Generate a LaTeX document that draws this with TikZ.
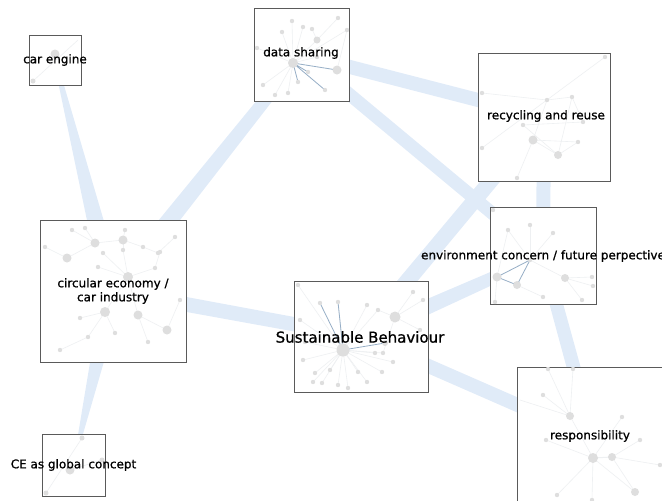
\documentclass[tikz,border=0pt]{standalone}
\usepackage{fontspec}
\setmainfont{DejaVu Sans}
\newfontfamily\lblfont{DejaVu Sans}[FakeBold=0.9]
\usetikzlibrary{backgrounds,calc}
\definecolor{bandc}{RGB}{224,235,248}
\definecolor{dotc}{RGB}{222,222,222}
\definecolor{linkc}{RGB}{238,240,242}
\definecolor{hilink}{RGB}{150,174,198}
\definecolor{framec}{RGB}{90,90,90}
\tikzset{
  topic/.style={draw=framec, line width=0.8pt, fill=white, inner sep=0pt, outer sep=0pt},
  lbl/.style={inner sep=0pt, font=\lblfont\fontsize{12}{14}\selectfont, text=black, align=center},
  link/.style={draw=linkc, line width=0.6pt},
  hlink/.style={draw=hilink, line width=0.8pt},
}
% tapered band between two topics: from, to, half width at from, half width at to
\newcommand{\band}[4]{\fill[bandc] ($(#1.center)!#3!90:(#2.center)$) -- ($(#1.center)!#3!-90:(#2.center)$) -- ($(#2.center)!#4!90:(#1.center)$) -- ($(#2.center)!#4!-90:(#1.center)$) -- cycle;}
% x/y list of small dots
\newcommand{\smalldots}[1]{\foreach \x/\y in {#1} \fill[dotc] (\x,\y) circle (2.2);}
% x/y/r list of larger dots
\newcommand{\bigdots}[1]{\foreach \x/\y/\r in {#1} \fill[dotc] (\x,\y) circle (\r);}
% x1/y1/x2/y2 list of faint links
\newcommand{\links}[1]{\foreach \x/\y/\u/\v in {#1} \draw[link] (\x,\y) -- (\u,\v);}
% spokes from one hub: hub x, hub y, list of x/y
\newcommand{\spokes}[3]{\foreach \u/\v in {#3} \draw[link] (#1,#2) -- (\u,\v);}
\begin{document}
\begin{tikzpicture}[x=1pt,y=-1pt]
\useasboundingbox (0,0) rectangle (662,501);

% topic frames
\node[topic, minimum width=52, minimum height=50] (eng) at (55,60) {};
\node[topic, minimum width=95, minimum height=93] (ds) at (301.5,54.5) {};
\node[topic, minimum width=132, minimum height=128] (rr) at (544,117) {};
\node[topic, minimum width=106, minimum height=97] (env) at (543,255.5) {};
\node[topic, minimum width=146, minimum height=142] (circ) at (113,291) {};
\node[topic, minimum width=134, minimum height=111] (sb) at (361,336.5) {};
\node[topic, minimum width=152, minimum height=142] (resp) at (593,438) {};
\node[topic, minimum width=63, minimum height=62] (glob) at (73.5,465) {};

% links between topics
\begin{pgfonlayer}{background}
\band{eng}{circ}{1.5pt}{11pt}
\band{circ}{ds}{9.5pt}{5.5pt}
\band{circ}{sb}{7.5pt}{7pt}
\band{circ}{glob}{11pt}{0.5pt}
\band{ds}{rr}{7pt}{7pt}
\band{ds}{env}{6.5pt}{6.5pt}
\band{sb}{rr}{8pt}{7.5pt}
\band{sb}{env}{8.5pt}{5.5pt}
\band{rr}{env}{7pt}{7pt}
\band{env}{resp}{6.5pt}{7pt}
\band{sb}{resp}{7pt}{7pt}
\end{pgfonlayer}

% small networks inside the frames
% car engine
\links{33/81/78/40}
\bigdots{55/54/4.5, 33/81/2.5}

% data sharing
\spokes{293}{63}{292/21, 303/27, 282/32, 257/48, 317/40, 317/57, 263/85, 288/93, 275/95, 347/30}
\links{317/40/338/18, 317/40/312/29, 337/70/347/30}
\draw[hlink] (293,63) -- (325,90) (293,63) -- (298,82) (293,63) -- (337,70) (293,63) -- (308,72);
\smalldots{292/21, 303/27, 312/29, 282/32, 338/18, 347/30, 257/48, 308/72, 298/82, 325/90, 263/85, 288/93, 275/95, 317/57}
\bigdots{293/63/5, 337/70/4.5, 317/40/3.5}

% recycling and reuse
\links{547/100/572/97, 547/100/533/140, 572/97/558/155, 572/97/583/122, 533/140/558/155, 533/140/578/142, 523/125/583/122, 558/155/578/142, 482/148/605/57, 482/93/547/100, 533/140/517/178, 523/125/558/155}
\smalldots{547/100, 572/97, 523/125, 578/142, 583/122, 605/57, 482/93, 482/148, 517/178}
\bigdots{533/140/4.5, 558/155/4}

% environment concern / future perpective
\links{508/230/530/260, 530/225/530/260, 553/233/530/260, 530/260/565/278, 517/285/543/297, 565/278/582/300, 565/278/592/277, 497/277/495/302, 565/278/593/286, 508/230/497/277}
\draw[hlink] (497,277) -- (530,260) -- (517,285) -- cycle;
\smalldots{508/230, 530/225, 553/233, 530/260, 543/297, 582/300, 592/277, 593/286, 495/302, 493/210}
\bigdots{497/277/4.5, 517/285/4, 565/278/4}

% circular economy / car industry
\links{123/240/125/230, 123/240/95/243, 123/240/123/250, 123/240/143/247, 95/243/67/258, 95/243/85/228, 95/243/72/230, 103/253/128/277, 123/250/128/277, 98/267/128/277, 143/247/158/253, 158/253/175/237, 128/277/155/268, 128/277/105/312, 128/277/138/315, 105/312/80/318, 105/312/88/337, 105/312/115/333, 138/315/167/330, 138/315/148/342, 67/258/45/247, 155/268/160/252, 167/330/180/300, 88/337/60/350}
\smalldots{125/230, 123/250, 143/247, 158/253, 103/253, 98/267, 80/318, 88/337, 115/333, 148/342, 160/252, 175/237, 72/230, 85/228, 45/247, 155/268, 180/300, 60/350}
\bigdots{123/240/4.5, 95/243/4.5, 67/258/4.5, 128/277/5, 105/312/5, 138/315/4.5, 167/330/4.5}

% Sustainable Behaviour
\spokes{343}{350}{338/302, 367/305, 378/310, 298/285, 375/353, 383/353, 315/373, 322/383, 338/385, 348/388, 367/382, 305/342, 303/360, 313/382, 393/362, 382/372, 300/320, 330/370, 358/372}
\spokes{395}{317}{413/292, 423/300, 378/310, 420/330, 383/353}
\draw[hlink] (343,350) -- (320,303) (343,350) -- (385,343) (343,350) -- (338,302);
\smalldots{338/302, 320/303, 367/305, 378/310, 413/292, 423/300, 298/285, 375/353, 383/353, 393/362, 382/372, 315/373, 322/383, 338/385, 348/388, 367/382, 305/342, 303/360, 313/382, 420/330, 300/320, 330/370, 358/372}
\bigdots{343/350/6.5, 395/317/5.5, 385/343/3}

% responsibility
\links{548/369/570/416, 573/369/570/416, 543/395/570/416, 570/416/593/458, 593/458/546/440, 593/458/622/417, 593/458/635/492, 612/457/640/440, 612/457/660/465, 593/458/557/495, 593/458/592/500, 612/457/635/492, 520/400/570/416}
\draw[link, line width=1pt] (593,458) -- (612,457);
\smalldots{548/369, 573/369, 543/395, 622/417, 546/440, 640/440, 660/465, 557/495, 592/500}
\bigdots{570/416/4, 593/458/5, 612/457/4, 635/492/4}

% CE as global concept
\links{46/493/82/438, 70/470/102/460}
\bigdots{70/470/4.5, 82/438/2.5, 102/460/2.5, 46/493/2.5}

% topic labels
\node[lbl] (eng-l) at (55,60) {car engine};
\node[lbl] (ds-l) at (301,53) {data sharing};
\node[lbl] (rr-l) at (546,116) {recycling and reuse};
\node[lbl] (env-l) at (543,256) {environment concern / future perpective};
\node[lbl] (circ-l) at (113,291) {circular economy /\\car industry};
\node[lbl, font=\lblfont\fontsize{15}{18}\selectfont] (sb-l) at (360,337) {Sustainable Behaviour};
\node[lbl] (resp-l) at (590,436) {responsibility};
\node[lbl] (glob-l) at (73.5,465) {CE as global concept};
\end{tikzpicture}
\end{document}
